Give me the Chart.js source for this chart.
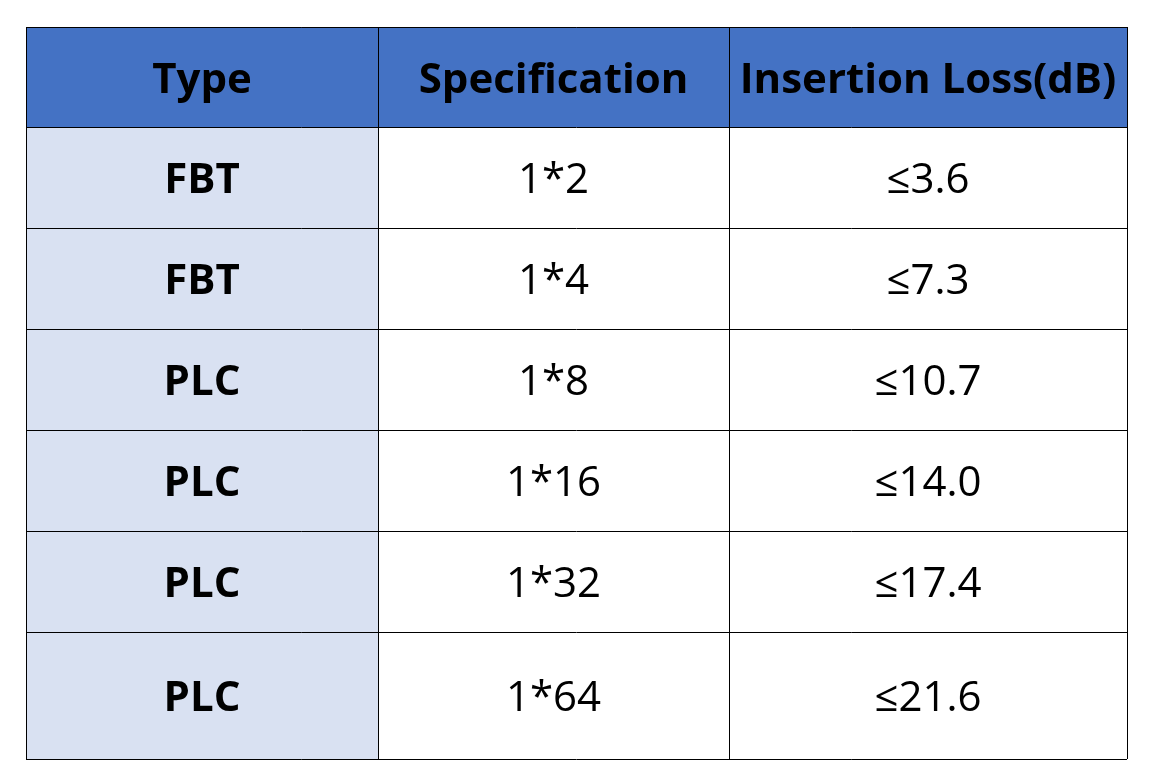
<!DOCTYPE html>
<html><head><meta charset="utf-8">
<script src="https://cdn.jsdelivr.net/npm/chart.js@4"></script>
<style>html,body{margin:0;padding:0;background:#fff}#wrap{width:1152px;height:784px}</style>
</head><body><div id="wrap"><canvas id="c"></canvas></div>
<script>
const headers = ["Type", "Specification", "Insertion Loss(dB)"];
const types = ["FBT", "FBT", "PLC", "PLC", "PLC", "PLC"];
const specs = ["1*2", "1*4", "1*8", "1*16", "1*32", "1*64"];
const losses = ["≤3.6", "≤7.3", "≤10.7", "≤14.0", "≤17.4", "≤21.6"];

// layout (table-space units)
const colEdges = [0, 352, 703, 1101];
const rowEdges = [0, 100, 201, 302, 403, 504, 605, 732];

const tablePlugin = {
  id: 'table',
  afterDraw(chart) {
    const ctx = chart.ctx, xs = chart.scales.x, ys = chart.scales.y;
    const X = v => xs.getPixelForValue(v), Y = v => ys.getPixelForValue(v);
    const rows = [headers].concat(types.map((t, i) => [t, specs[i], losses[i]]));
    rows.forEach((r, ri) => {
      r.forEach((txt, ci) => {
        const x0 = X(colEdges[ci]), x1 = X(colEdges[ci + 1]);
        const y0 = Y(rowEdges[ri]), y1 = Y(rowEdges[ri + 1]);
        ctx.fillStyle = ri === 0 ? '#4472C4' : (ci === 0 ? '#D9E1F2' : '#FFFFFF');
        ctx.fillRect(x0, y0, x1 - x0, y1 - y0);
        ctx.fillStyle = '#000';
        const bold = ri === 0 || ci === 0;
        ctx.font = (bold ? 'bold ' : '') + '42px "Open Sans", "Noto Sans", sans-serif';
        ctx.textAlign = 'center'; ctx.textBaseline = 'middle';
        ctx.fillText(txt, (x0 + x1) / 2, (y0 + y1) / 2 + 4);
      });
    });
    ctx.strokeStyle = '#000'; ctx.lineWidth = 1;
    ctx.beginPath();
    colEdges.forEach(c => { const x = Math.round(X(c)) + 0.5; ctx.moveTo(x, Y(0)); ctx.lineTo(x, Y(732)); });
    rowEdges.forEach(r => { const y = Math.round(Y(r)) + 0.5; ctx.moveTo(X(0), y); ctx.lineTo(X(1101), y); });
    ctx.stroke();
  }
};

new Chart(document.getElementById('c'), {
  type: 'scatter',
  data: { datasets: [{ data: [] }] },
  options: {
    responsive: true, maintainAspectRatio: false, animation: false,
    layout: { padding: { left: 26, top: 27, right: 25, bottom: 25 } },
    plugins: { legend: { display: false }, tooltip: { enabled: false } },
    scales: {
      x: { type: 'linear', min: 0, max: 1101, display: false },
      y: { type: 'linear', min: 0, max: 732, reverse: true, display: false }
    }
  },
  plugins: [tablePlugin]
});
</script></body></html>
